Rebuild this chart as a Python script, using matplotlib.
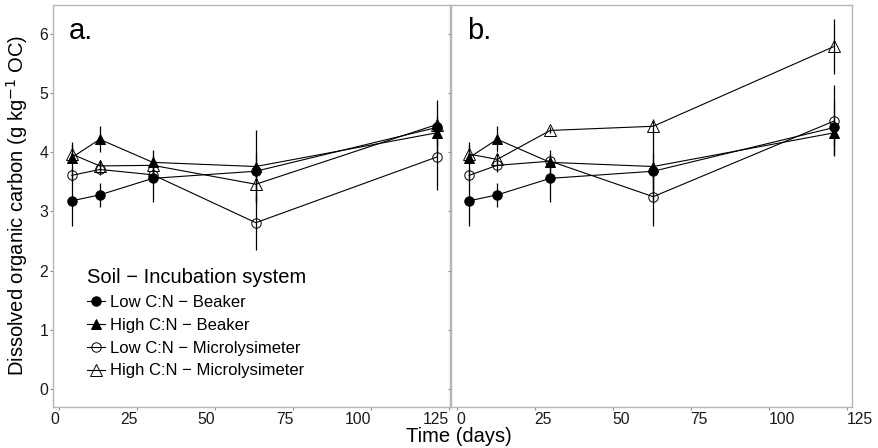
import numpy as np
import matplotlib
matplotlib.use("Agg")
import matplotlib.pyplot as plt
from matplotlib.lines import Line2D

plt.rcParams['font.family'] = ['Liberation Sans', 'DejaVu Sans']

# sampling days
days = [4, 13, 30, 63, 121]

# beaker data (same in both panels)
low_beaker = [3.18, 3.28, 3.56, 3.68, 4.42]
low_beaker_se = [0.43, 0.20, 0.40, 0.30, 0.46]
high_beaker = [3.91, 4.22, 3.83, 3.76, 4.33]
high_beaker_se = [0.27, 0.22, 0.21, 0.61, 0.20]

# panel a microlysimeter
a_low_micro = [3.61, 3.71, 3.62, 2.81, 3.92]
a_low_micro_se = [0.12, 0.10, 0.10, 0.46, 0.55]
a_high_micro = [3.97, 3.77, 3.78, 3.46, 4.47]
a_high_micro_se = [0.15, 0.10, 0.12, 0.30, 0.15]

# panel b microlysimeter
b_low_micro = [3.61, 3.78, 3.85, 3.25, 4.53]
b_low_micro_se = [0.12, 0.12, 0.12, 0.50, 0.60]
b_high_micro = [3.97, 3.88, 4.37, 4.44, 5.79]
b_high_micro_se = [0.15, 0.10, 0.05, 0.13, 0.47]

x_ticks = [0, 25, 50, 75, 100, 125]
y_ticks = [0, 1, 2, 3, 4, 5, 6]

labels = ["Low C:N \u2212 Beaker", "High C:N \u2212 Beaker",
          "Low C:N \u2212 Microlysimeter", "High C:N \u2212 Microlysimeter"]
markers = ['o', '^', 'o', '^']
sizes = [6.8, 7.8, 6.8, 8.0]
fills = ['black', 'black', 'none', 'none']

frame_col = '#b5b5b5'
text_col = '#1a1a1a'

fig = plt.figure(figsize=(8.79, 4.48), dpi=100)
W, H = 879, 448
ax_a = fig.add_axes([53.3 / W, 1 - 406.7 / H, (450.5 - 53.3) / W, (406.7 - 5) / H])
ax_b = fig.add_axes([451.0 / W, 1 - 406.7 / H, (852.3 - 451.0) / W, (406.7 - 5) / H])

def drawPanel(ax, series, xha):
    for i, (vals, se) in enumerate(series):
        ax.errorbar(days, vals, yerr=se, fmt='none', ecolor='black', elinewidth=0.9, zorder=2)
        ax.plot(days, vals, color='black', lw=0.8, zorder=3)
        ax.plot(days, vals, ls='none', marker=markers[i], ms=sizes[i],
                mfc=fills[i], mec='black', mew=0.7, zorder=4)
    ax.set_ylim(-0.3, 6.49)
    ax.set_yticks(y_ticks)
    ax.set_xticks(x_ticks)
    for s in ax.spines.values():
        s.set_color(frame_col)
        s.set_linewidth(1.0)
    ax.tick_params(length=2.5, width=0.8, color='#8c8c8c', labelsize=11.3,
                   labelcolor=text_col, pad=1.2)
    for t in ax.get_xticklabels():
        t.set_ha(xha)

drawPanel(ax_a, [(low_beaker, low_beaker_se), (high_beaker, high_beaker_se),
                 (a_low_micro, a_low_micro_se), (a_high_micro, a_high_micro_se)], 'right')
drawPanel(ax_b, [(low_beaker, low_beaker_se), (high_beaker, high_beaker_se),
                 (b_low_micro, b_low_micro_se), (b_high_micro, b_high_micro_se)], 'left')

ax_a.set_xlim(-1.9, 125.4)
ax_b.set_xlim(-1.8, 126.8)
ax_b.tick_params(axis='y', labelleft=False)

ax_a.text(0.040, 0.915, "a.", transform=ax_a.transAxes, fontsize=21, color='black')
ax_b.text(0.039, 0.915, "b.", transform=ax_b.transAxes, fontsize=21, color='black')

ax_a.set_ylabel("Dissolved organic carbon (g kg$^{-1}$ OC)", fontsize=14.5)
ax_a.yaxis.set_label_coords(-0.058, 0.5)
fig.text(459 / W, 1 - 441.5 / H, "Time (days)", ha='center', va='baseline', fontsize=14.5)

handles = [Line2D([], [], color='black', lw=0.8, marker=markers[i], ms=sizes[i],
                  mfc=fills[i], mec='black', mew=0.7) for i in range(4)]
leg = ax_a.legend(handles, labels, title="Soil \u2212 Incubation system", loc='upper left',
                  bbox_to_anchor=(0.085, 0.345), frameon=False, fontsize=12,
                  title_fontsize=14.5, handlelength=1.05, handletextpad=0.3,
                  labelspacing=0.47, borderpad=0, borderaxespad=0, alignment='left')

fig.savefig("out.png", dpi=100)
